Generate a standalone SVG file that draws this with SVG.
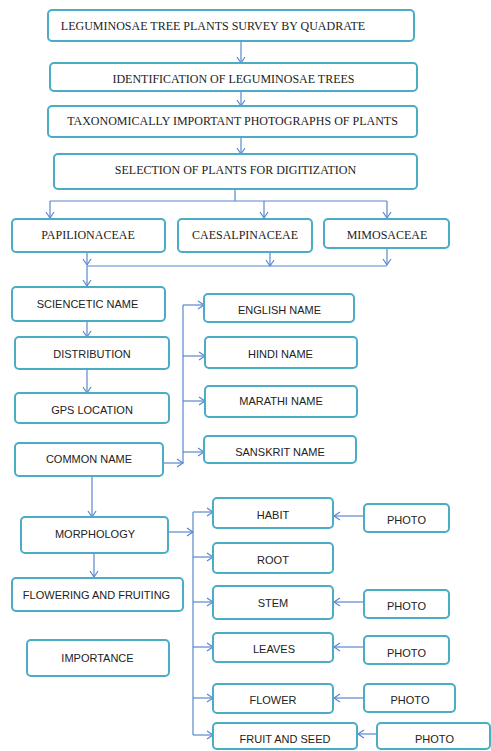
<svg xmlns="http://www.w3.org/2000/svg" width="491" height="751" viewBox="0 0 491 751">
<style>
.b{fill:#fff;stroke:#4BACC6;stroke-width:2}
.s{font-family:"Liberation Serif","Times New Roman",serif;font-size:12px;fill:#222;text-anchor:middle}
.n{font-family:"Liberation Sans",Arial,sans-serif;font-size:11px;fill:#222;text-anchor:middle}
.c{fill:none;stroke:#5A86CF;stroke-width:1.2}
.a{marker-end:url(#ah)}
</style>
<defs>
<marker id="ah" markerUnits="userSpaceOnUse" markerWidth="12" markerHeight="12" viewBox="-8 -6 10 12" refX="0" refY="0" orient="auto">
<path d="M-6,-4 L0,0 L-6,4" fill="none" stroke="#5A86CF" stroke-width="1.2"/>
</marker>
</defs>
<g id="connectors">
<path class="c a" d="M241,41 V63"/>
<path class="c a" d="M241,91 V106"/>
<path class="c a" d="M241,137 V154"/>
<path class="c" d="M235,189 V201 M50,201 H387"/>
<path class="c a" d="M50,201 V218"/>
<path class="c a" d="M264,201 V218"/>
<path class="c a" d="M387,201 V218"/>
<path class="c a" d="M87,252 V265"/>
<path class="c a" d="M270,252 V266"/>
<path class="c a" d="M387,248 V265"/>
<path class="c" d="M87,266 H387"/>
<path class="c a" d="M87,266 V286"/>
<path class="c a" d="M87,321 V337"/>
<path class="c a" d="M87,369 V393"/>
<path class="c a" d="M163,463 H183"/>
<path class="c" d="M183,305 V463"/>
<path class="c a" d="M183,305 H204"/>
<path class="c a" d="M183,356 H205"/>
<path class="c a" d="M183,401 H205"/>
<path class="c a" d="M183,452 H204"/>
<path class="c a" d="M92,476 V517"/>
<path class="c a" d="M168,532 H193"/>
<path class="c" d="M193,512 V735"/>
<path class="c a" d="M193,512 H213"/>
<path class="c a" d="M193,557 H213"/>
<path class="c a" d="M193,602 H213"/>
<path class="c a" d="M193,647 H213"/>
<path class="c a" d="M193,698 H213"/>
<path class="c a" d="M193,735 H213"/>
<path class="c a" d="M94,553 V577"/>
<path class="c a" d="M364,516 H334"/>
<path class="c a" d="M364,602 H334"/>
<path class="c a" d="M364,647 H334"/>
<path class="c a" d="M364,698 H334"/>
<path class="c a" d="M377,734 H358"/>
</g>
<g id="survey"><rect class="b" x="48" y="10" width="366" height="31" rx="4"/><text class="s" x="213" y="30">LEGUMINOSAE TREE PLANTS SURVEY BY QUADRATE</text></g>
<g id="identification"><rect class="b" x="50" y="63" width="367" height="28" rx="4"/><text class="s" x="233.5" y="83">IDENTIFICATION OF LEGUMINOSAE TREES</text></g>
<g id="photographs"><rect class="b" x="48" y="106" width="369" height="31" rx="4"/><text class="s" x="232.5" y="125">TAXONOMICALLY IMPORTANT PHOTOGRAPHS OF PLANTS</text></g>
<g id="selection"><rect class="b" x="54" y="154" width="363" height="35" rx="4"/><text class="s" x="235.5" y="174">SELECTION OF PLANTS FOR DIGITIZATION</text></g>
<g id="papilionaceae"><rect class="b" x="12" y="219" width="153" height="33" rx="4"/><text class="s" x="88" y="238.5">PAPILIONACEAE</text></g>
<g id="caesalpinaceae"><rect class="b" x="178" y="219" width="134" height="33" rx="4"/><text class="s" x="245" y="238.5">CAESALPINACEAE</text></g>
<g id="mimosaceae"><rect class="b" x="324" y="219" width="125" height="29" rx="4"/><text class="s" x="387" y="238.5">MIMOSACEAE</text></g>
<g id="scientific"><rect class="b" x="12" y="287" width="153" height="34" rx="4"/><text class="n" x="87.5" y="307.5">SCIENCETIC NAME</text></g>
<g id="distribution"><rect class="b" x="15" y="337" width="154" height="32" rx="4"/><text class="n" x="92" y="358">DISTRIBUTION</text></g>
<g id="gps"><rect class="b" x="15" y="393" width="154" height="30" rx="4"/><text class="n" x="92" y="414">GPS LOCATION</text></g>
<g id="common"><rect class="b" x="15" y="443" width="148" height="33" rx="4"/><text class="n" x="89" y="463">COMMON NAME</text></g>
<g id="english"><rect class="b" x="204" y="294" width="150" height="28" rx="4"/><text class="n" x="279.5" y="314">ENGLISH NAME</text></g>
<g id="hindi"><rect class="b" x="205" y="337" width="152" height="31" rx="4"/><text class="n" x="280.5" y="358">HINDI NAME</text></g>
<g id="marathi"><rect class="b" x="205" y="386" width="152" height="31" rx="4"/><text class="n" x="281" y="405">MARATHI NAME</text></g>
<g id="sanskrit"><rect class="b" x="204" y="436" width="152" height="27" rx="4"/><text class="n" x="280" y="456">SANSKRIT NAME</text></g>
<g id="morphology"><rect class="b" x="21" y="517" width="147" height="36" rx="4"/><text class="n" x="95" y="538">MORPHOLOGY</text></g>
<g id="flowering"><rect class="b" x="12" y="578" width="171" height="33" rx="4"/><text class="n" x="96.5" y="599">FLOWERING AND FRUITING</text></g>
<g id="importance"><rect class="b" x="27" y="640" width="142" height="36" rx="4"/><text class="n" x="97.5" y="662">IMPORTANCE</text></g>
<g id="habit"><rect class="b" x="213" y="498" width="120" height="30" rx="4"/><text class="n" x="273" y="519">HABIT</text></g>
<g id="root"><rect class="b" x="213" y="543" width="120" height="30" rx="4"/><text class="n" x="273" y="564">ROOT</text></g>
<g id="stem"><rect class="b" x="213" y="586" width="120" height="33" rx="4"/><text class="n" x="273" y="607">STEM</text></g>
<g id="leaves"><rect class="b" x="213" y="633" width="120" height="29" rx="4"/><text class="n" x="274" y="653">LEAVES</text></g>
<g id="flower"><rect class="b" x="213" y="684" width="120" height="29" rx="4"/><text class="n" x="273" y="704">FLOWER</text></g>
<g id="fruit"><rect class="b" x="213" y="723" width="144" height="26" rx="4"/><text class="n" x="285" y="743">FRUIT AND SEED</text></g>
<g id="photo-habit"><rect class="b" x="364" y="504" width="85" height="28" rx="4"/><text class="n" x="406.5" y="524">PHOTO</text></g>
<g id="photo-stem"><rect class="b" x="364" y="590" width="85" height="28" rx="4"/><text class="n" x="406.5" y="610">PHOTO</text></g>
<g id="photo-leaves"><rect class="b" x="364" y="636" width="85" height="28" rx="4"/><text class="n" x="406.5" y="657">PHOTO</text></g>
<g id="photo-flower"><rect class="b" x="364" y="684" width="91" height="28" rx="4"/><text class="n" x="410" y="704">PHOTO</text></g>
<g id="photo-fruit"><rect class="b" x="377" y="723" width="113" height="26" rx="4"/><text class="n" x="434.5" y="743">PHOTO</text></g>
</svg>
